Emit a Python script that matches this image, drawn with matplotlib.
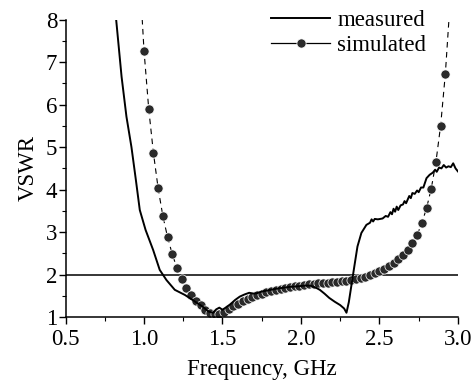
import matplotlib
matplotlib.use("Agg")
import matplotlib.pyplot as plt
from matplotlib.lines import Line2D
from matplotlib.ticker import MultipleLocator
import numpy as np

plt.rcParams['font.family'] = ['Liberation Serif', 'DejaVu Serif']

# measured VSWR
meas_f = [0.82, 0.857, 0.888, 0.92, 0.948, 0.973, 1.01, 1.058, 1.10, 1.143, 1.196, 1.26,
          1.31, 1.375, 1.41, 1.44, 1.46, 1.48, 1.50, 1.52, 1.55, 1.58, 1.61, 1.64, 1.67,
          1.70, 1.72, 1.75, 1.78, 1.82, 1.85, 1.89, 1.93, 1.97, 2.00, 2.03, 2.056, 2.09,
          2.12, 2.15, 2.18, 2.215, 2.25, 2.275, 2.29, 2.305, 2.32, 2.34, 2.36, 2.385,
          2.417, 2.44, 2.45, 2.46, 2.47, 2.49, 2.52, 2.54, 2.555, 2.57, 2.58, 2.59, 2.60,
          2.61, 2.62, 2.635, 2.65, 2.66, 2.67, 2.69, 2.70, 2.71, 2.725, 2.74, 2.75, 2.765,
          2.78, 2.80, 2.82, 2.84, 2.855, 2.865, 2.88, 2.895, 2.91, 2.925, 2.94, 2.955,
          2.97, 2.985, 3.0]
meas_v = [8.1, 6.66, 5.72, 5.0, 4.23, 3.52, 3.05, 2.58, 2.11, 1.87, 1.64, 1.52,
          1.40, 1.24, 1.13, 1.10, 1.18, 1.22, 1.17, 1.22, 1.30, 1.40, 1.48, 1.53, 1.57,
          1.55, 1.56, 1.60, 1.62, 1.65, 1.67, 1.69, 1.71, 1.72, 1.73, 1.74, 1.74, 1.70,
          1.64, 1.55, 1.45, 1.36, 1.28, 1.20, 1.10, 1.35, 1.71, 2.19, 2.66, 2.98,
          3.17, 3.22, 3.30, 3.25, 3.31, 3.30, 3.32, 3.38, 3.36, 3.47, 3.42, 3.55, 3.48,
          3.60, 3.52, 3.63, 3.65, 3.73, 3.68, 3.85, 3.80, 3.92, 3.90, 3.98, 3.94, 4.05,
          4.05, 4.27, 4.35, 4.40, 4.47, 4.42, 4.52, 4.50, 4.58, 4.52, 4.55, 4.53,
          4.62, 4.50, 4.43]

# simulated VSWR
sim_f = [0.97, 1.00, 1.03, 1.06, 1.09, 1.12, 1.15, 1.18, 1.21, 1.24, 1.27, 1.30, 1.33,
         1.36, 1.39, 1.42, 1.45, 1.48, 1.51, 1.54, 1.57, 1.60, 1.63, 1.66, 1.69, 1.72,
         1.75, 1.78, 1.81, 1.84, 1.87, 1.90, 1.93, 1.96, 1.99, 2.02, 2.05, 2.08, 2.11,
         2.14, 2.17, 2.20, 2.23, 2.26, 2.29, 2.32, 2.35, 2.38, 2.41, 2.44, 2.47, 2.50,
         2.53, 2.56, 2.59, 2.62, 2.65, 2.68, 2.71, 2.74, 2.77, 2.80, 2.83, 2.86, 2.89,
         2.92, 2.95]
sim_v = [9.2, 7.27, 5.90, 4.86, 4.03, 3.38, 2.88, 2.48, 2.15, 1.90, 1.68, 1.51, 1.38,
         1.28, 1.17, 1.10, 1.06, 1.07, 1.12, 1.18, 1.25, 1.31, 1.37, 1.42, 1.47, 1.51,
         1.55, 1.58, 1.61, 1.64, 1.66, 1.68, 1.70, 1.72, 1.74, 1.75, 1.77, 1.78, 1.79,
         1.80, 1.81, 1.82, 1.83, 1.84, 1.85, 1.87, 1.89, 1.91, 1.94, 1.98, 2.03, 2.08,
         2.14, 2.20, 2.28, 2.36, 2.46, 2.58, 2.74, 2.93, 3.21, 3.56, 4.02, 4.65, 5.51,
         6.73, 8.4]

ref_level = 2.0
xticks = [0.5, 1.0, 1.5, 2.0, 2.5, 3.0]
yticks = [1, 2, 3, 4, 5, 6, 7, 8]

fig = plt.figure(figsize=(4.75, 3.81), dpi=100)
ax = fig.add_axes([0.138, 0.168, 0.826, 0.78])

ax.axhline(ref_level, color='black', lw=1.1)
ax.plot(sim_f, sim_v, color='black', lw=0.8, ls=(0, (5, 4)))
ax.plot(sim_f, sim_v, ls='none', marker='o', ms=6.6, mfc='#2a2a2a', mec='white', mew=0.5)
ax.plot(meas_f, meas_v, color='black', lw=1.4)

ax.set_xlim(0.5, 3.0)
ax.set_ylim(1, 8)
ax.set_xticks(xticks)
ax.set_xticklabels([f"{t:.1f}" for t in xticks])
ax.set_yticks(yticks)
ax.xaxis.set_minor_locator(MultipleLocator(0.25))
ax.yaxis.set_minor_locator(MultipleLocator(0.5))
ax.tick_params(which='major', direction='out', length=5, width=1, labelsize=16.5)
ax.tick_params(axis='y', which='major', pad=1)
ax.tick_params(axis='x', which='major', pad=4)
ax.tick_params(which='minor', direction='out', length=3, width=0.8)
for s in ['top', 'right']:
    ax.spines[s].set_visible(False)
for s in ['left', 'bottom']:
    ax.spines[s].set_linewidth(1.1)

ax.set_xlabel('Frequency, GHz', fontsize=16.5, labelpad=6)
ax.set_ylabel('VSWR', fontsize=16.5, labelpad=5)

handles = [Line2D([], [], color='black', lw=1.4),
           Line2D([], [], color='black', lw=0.9, marker='o', ms=6.6, mfc='#2a2a2a', mec='white', mew=0.5)]
ax.legend(handles, ['measured', 'simulated'], loc='upper left', bbox_to_anchor=(0.5, 1.065),
          frameon=False, fontsize=16.5, handlelength=2.6, handletextpad=0.3, labelspacing=0.2,
          borderaxespad=0)

fig.savefig('out.png', dpi=100)
